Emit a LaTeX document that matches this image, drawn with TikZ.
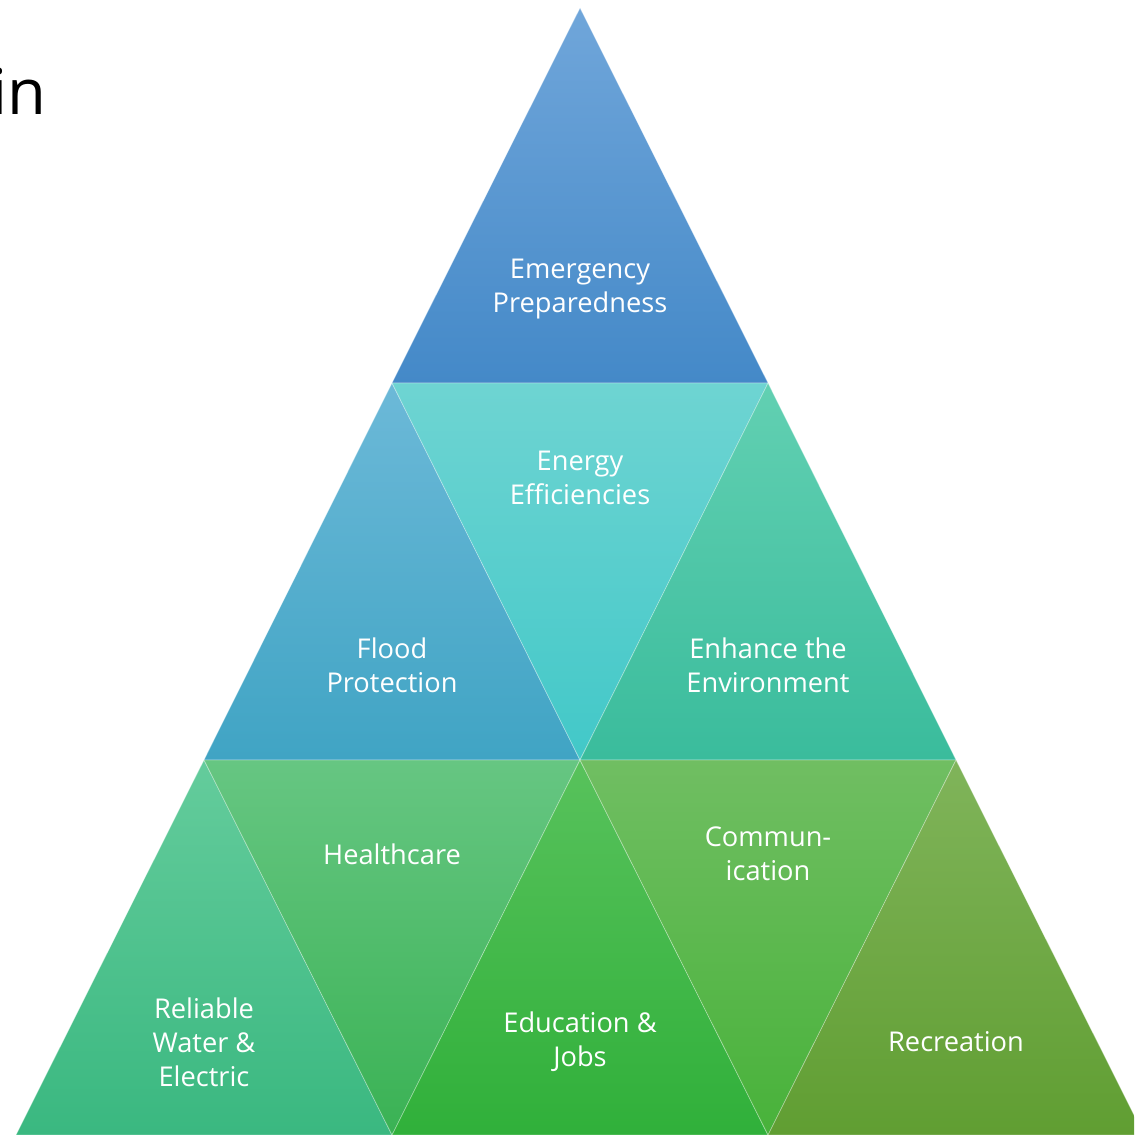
\documentclass[tikz,border=0pt]{standalone}
\usepackage{fontspec}
\setmainfont{Open Sans}
\tikzset{
  tri/.style={draw=white,draw opacity=.35,line width=.4pt},
  lbl/.style={text=white,align=center,font=\fontsize{15.5}{19.3}\selectfont},
}
\begin{document}
\begin{tikzpicture}[x=0.02cm,y=-0.02cm]
\useasboundingbox (0,0) rectangle (1134,1135);
\clip (0,0) rectangle (1134,1135);
% top row
\shade[tri,top color={rgb,255:red,112;green,166;blue,218},bottom color={rgb,255:red,68;green,137;blue,200}] (392,383)--(580,8)--(768,383)--cycle;
% middle row
\shade[tri,top color={rgb,255:red,108;green,185;blue,216},bottom color={rgb,255:red,64;green,164;blue,196}] (204,760)--(392,383)--(580,760)--cycle;
\shade[tri,top color={rgb,255:red,110;green,212;blue,210},bottom color={rgb,255:red,66;green,200;blue,200}] (392,383)--(768,383)--(580,760)--cycle;
\shade[tri,top color={rgb,255:red,98;green,208;blue,178},bottom color={rgb,255:red,58;green,188;blue,156}] (580,760)--(768,383)--(956,760)--cycle;
% bottom row
\shade[tri,top color={rgb,255:red,100;green,204;blue,156},bottom color={rgb,255:red,58;green,184;blue,128}] (16,1135)--(204,760)--(392,1135)--cycle;
\shade[tri,top color={rgb,255:red,102;green,198;blue,130},bottom color={rgb,255:red,58;green,178;blue,84}] (204,760)--(580,760)--(392,1135)--cycle;
\shade[tri,top color={rgb,255:red,88;green,194;blue,92},bottom color={rgb,255:red,48;green,176;blue,58}] (392,1135)--(580,760)--(768,1135)--cycle;
\shade[tri,top color={rgb,255:red,112;green,190;blue,98},bottom color={rgb,255:red,72;green,178;blue,58}] (580,760)--(956,760)--(768,1135)--cycle;
\shade[tri,top color={rgb,255:red,128;green,180;blue,90},bottom color={rgb,255:red,96;green,158;blue,50}] (768,1135)--(956,760)--(1144,1135)--cycle;
% labels
\node[lbl] (emerg) at (580,289) {Emergency\\Preparedness};
\node[lbl] (energy) at (580,478) {Energy\\Efficiencies};
\node[lbl] (flood) at (392,665) {Flood\\Protection};
\node[lbl] (envir) at (768,665) {Enhance the\\Environment};
\node[lbl] (health) at (392,854) {Healthcare};
\node[lbl] (comm) at (768,854) {Commun-\\ication};
\node[lbl] (water) at (204,1042) {Reliable\\Water \&\\Electric};
\node[lbl] (edu) at (580,1042) {Education \&\\Jobs};
\node[lbl] (recr) at (956,1042) {Recreation};
\node[anchor=base east,inner sep=0pt,font=\fontsize{36}{40}\selectfont] (title) at (47,115) {in};
\end{tikzpicture}
\end{document}
